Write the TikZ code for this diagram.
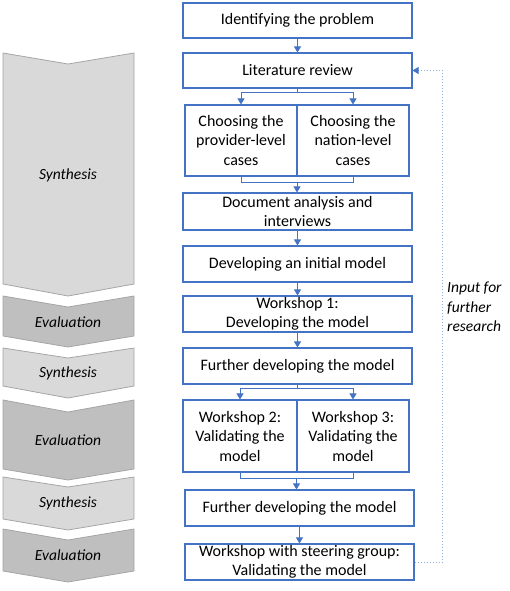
\documentclass[tikz,border=0pt]{standalone}
\usepackage{fontspec}
\setmainfont{Carlito}
\usepackage{tikz}
\usetikzlibrary{calc, shapes, arrows.meta}
\usetikzlibrary{positioning}

\definecolor{boxblue}{HTML}{4472C4}
\definecolor{dotblue}{HTML}{8FAADC}
\definecolor{synfill}{HTML}{D9D9D9}
\definecolor{evafill}{HTML}{BFBFBF}
\definecolor{chevline}{HTML}{A5A5A5}

\tikzstyle{stage} = [rectangle, draw=boxblue, line width=1.1pt, text centered, align=center, inner sep=0pt, font=\fontsize{16}{19.5}\selectfont]
\tikzstyle{flow} = [draw=boxblue, line width=0.9pt, -{Triangle[length=6pt, width=7pt]}]
\tikzstyle{link} = [draw=boxblue, line width=0.9pt]
\tikzstyle{feedback} = [draw=dotblue, line width=1pt, dotted, -{Triangle[length=6pt, width=7pt, color=boxblue]}]
\tikzstyle{phase} = [font=\fontsize{15.5}{19.5}\selectfont\itshape]

\begin{document}
\begin{tikzpicture}[x=1pt, y=-1pt]
        \useasboundingbox (0, 0) rectangle (510, 591);

        % phases on the left
        \filldraw[fill=synfill, draw=chevline, line width=0.8pt] (3, 53) -- (68, 64) -- (134, 53) -- (134, 284) -- (68, 296) -- (3, 284) -- cycle;
        \filldraw[fill=evafill, draw=chevline, line width=0.8pt] (3, 296) -- (68, 307) -- (134, 296) -- (134, 336) -- (68, 347) -- (3, 336) -- cycle;
        \filldraw[fill=synfill, draw=chevline, line width=0.8pt] (3, 348) -- (68, 358) -- (134, 348) -- (134, 386) -- (68, 398) -- (3, 386) -- cycle;
        \filldraw[fill=evafill, draw=chevline, line width=0.8pt] (3, 400) -- (68, 412) -- (134, 400) -- (134, 469) -- (68, 480) -- (3, 469) -- cycle;
        \filldraw[fill=synfill, draw=chevline, line width=0.8pt] (3, 477) -- (68, 487) -- (134, 477) -- (134, 519) -- (68, 530) -- (3, 519) -- cycle;
        \filldraw[fill=evafill, draw=chevline, line width=0.8pt] (3, 529) -- (68, 540) -- (134, 529) -- (134, 571) -- (68, 582) -- (3, 571) -- cycle;

        \node[phase] at (68, 175) (syn_a) {Synthesis};
        \node[phase] at (68, 322) (eva_a) {Evaluation};
        \node[phase] at (68, 373) (syn_b) {Synthesis};
        \node[phase] at (68, 440) (eva_b) {Evaluation};
        \node[phase] at (68, 503) (syn_c) {Synthesis};
        \node[phase] at (68, 555) (eva_c) {Evaluation};

        % process steps
        \node[stage, minimum width=229pt, minimum height=35pt] at (297.5, 20.5) (problem) {Identifying the problem};
        \node[stage, minimum width=229pt, minimum height=35pt] at (297.5, 70.5) (literature) {Literature review};
        \node[stage, minimum width=112pt, minimum height=71pt] at (241, 140.5) (provider) {Choosing the\\provider-level\\cases};
        \node[stage, minimum width=112pt, minimum height=71pt] at (353, 140.5) (nation) {Choosing the\\nation-level\\cases};
        \node[stage, minimum width=229pt, minimum height=37pt] at (297.5, 211.5) (documents) {Document analysis and\\interviews};
        \node[stage, minimum width=229pt, minimum height=36pt] at (297.5, 264) (initial) {Developing an initial model};
        \node[stage, minimum width=229pt, minimum height=36pt] at (297.5, 314) (workshop_a) {Workshop 1:\\Developing the model};
        \node[stage, minimum width=229pt, minimum height=36pt] at (297.5, 366) (further_a) {Further developing the model};
        \node[stage, minimum width=114pt, minimum height=72pt] at (240, 436) (workshop_b) {Workshop 2:\\Validating the\\model};
        \node[stage, minimum width=112pt, minimum height=72pt] at (353, 436) (workshop_c) {Workshop 3:\\Validating the\\model};
        \node[stage, minimum width=229pt, minimum height=36pt] at (299.5, 508) (further_b) {Further developing the model};
        \node[stage, minimum width=229pt, minimum height=36pt] at (299.5, 562) (steering) {Workshop with steering group:\\Validating the model};

        \node[phase, anchor=west, align=left, inner sep=0pt] at (447, 307) (further_research) {Input for\\further\\research};

        \coordinate (split_a) at ($(literature.south)+(0, 4)$);
        \coordinate (merge_a) at ($(provider.south)!0.5!(nation.south)+(0, 6)$);
        \coordinate (split_b) at ($(further_a.south)+(0, 4)$);
        \coordinate (merge_b) at ($(workshop_b.south)!0.5!(workshop_c.south)+(0, 6)$);

        \draw[flow] (problem) -- (literature);
        \draw[link] (literature.south) -- (split_a);
        \draw[flow] (split_a) -| (provider.north);
        \draw[flow] (split_a) -| (nation.north);
        \draw[link] (provider.south) |- (merge_a) -| (nation.south);
        \draw[flow] (merge_a) -- (merge_a |- documents.north);
        \draw[flow] (documents) -- (initial);
        \draw[flow] (initial) -- (workshop_a);
        \draw[flow] (workshop_a) -- (further_a);
        \draw[link] (further_a.south) -- (split_b);
        \draw[flow] (split_b) -| (workshop_b.north);
        \draw[flow] (split_b) -| (workshop_c.north);
        \draw[link] (workshop_b.south) |- (merge_b) -| (workshop_c.south);
        \draw[flow] (merge_b) -- (merge_b |- further_b.north);
        \draw[flow] (further_b) -- (steering);

        \draw[feedback] (steering.east) -- ++(28, 0) |- (literature.east);
    \end{tikzpicture}
\end{document}
